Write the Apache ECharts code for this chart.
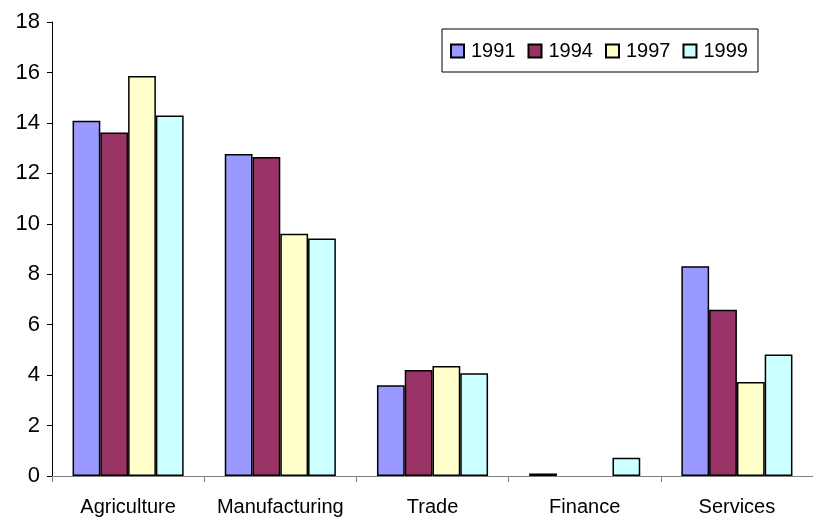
<!DOCTYPE html>
<html>
<head>
<meta charset="utf-8">
<script src="https://cdn.jsdelivr.net/npm/echarts@6/dist/echarts.min.js"></script>
<style>
  html, body { margin: 0; padding: 0; background: #fff; }
  #chart { width: 813px; height: 520px; }
</style>
</head>
<body>
<div id="chart"></div>
<script>
// Sectors along the horizontal axis
const categories = ['Agriculture', 'Manufacturing', 'Trade', 'Finance', 'Services'];
// One series per survey year (null = no bar drawn)
const years = ['1991', '1994', '1997', '1999'];
const values1991 = [14.08, 12.77, 3.60, 0.1, 8.32];
const values1994 = [13.62, 12.65, 4.20, null, 6.59];
const values1997 = [15.86, 9.60, 4.36, null, 3.73];
const values1999 = [14.29, 9.42, 4.07, 0.72, 4.82];
// Value axis range
const yMin = 0;
const yMax = 18;
const yStep = 2;

const seriesValues = [values1991, values1994, values1997, values1999];
const colors = ['#9999FF', '#993366', '#FFFFCC', '#CCFFFF'];
const font = '"Liberation Sans", Arial, sans-serif';

const chart = echarts.init(document.getElementById('chart'), null, { renderer: 'canvas' });

chart.setOption({
  animation: false,
  backgroundColor: '#ffffff',
  grid: { left: 52, right: -9, top: 22, bottom: 44, containLabel: false },
  legend: {
    data: years,
    left: 442,
    top: 29,
    orient: 'horizontal',
    padding: [12, 10, 11, 8],
    borderColor: '#000',
    borderWidth: 1,
    itemWidth: 13,
    itemHeight: 13,
    itemGap: 12,
    icon: 'rect',
    textStyle: { fontFamily: font, fontSize: 20, color: '#000', padding: [0, 0, 0, 2] }
  },
  xAxis: {
    type: 'category',
    data: categories,
    axisLine: { lineStyle: { color: '#808080', width: 1 } },
    axisTick: { show: true, interval: 0, alignWithLabel: false, length: 6, lineStyle: { color: '#808080' } },
    axisLabel: { interval: 0, fontFamily: font, fontSize: 20, color: '#000', margin: 21 },
    splitLine: { show: false }
  },
  yAxis: {
    type: 'value',
    min: yMin,
    max: yMax,
    interval: yStep,
    axisLine: { show: true, lineStyle: { color: '#000', width: 1 } },
    axisTick: { show: true, length: 5, lineStyle: { color: '#000' } },
    axisLabel: { fontFamily: font, fontSize: 22, color: '#000', margin: 12 },
    splitLine: { show: false }
  },
  series: years.map((y, i) => ({
    name: y,
    type: 'bar',
    data: seriesValues[i],
    barGap: '0%',
    barCategoryGap: '27%',
    itemStyle: { color: colors[i], borderColor: '#000', borderWidth: 1.5 }
  }))
});
</script>
</body>
</html>
